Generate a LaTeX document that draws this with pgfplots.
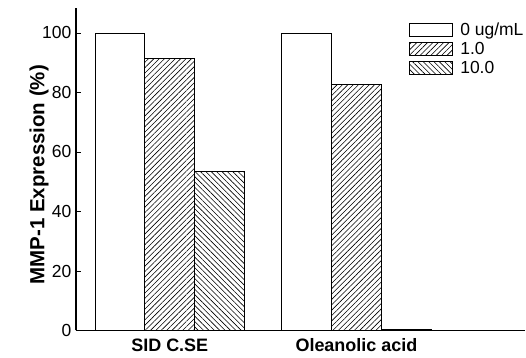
\documentclass[border=0pt]{standalone}
\usepackage{fontspec}
\setmainfont{Liberation Sans}
\usepackage{pgfplots}
\pgfplotsset{compat=1.18}
\usetikzlibrary{patterns.meta}
\begin{document}
\begin{tikzpicture}
\begin{axis}[
  name=ax, at={(0,0)}, anchor=south west,
  scale only axis, width=450pt, height=323pt,
  xmin=-0.503, xmax=1.904, ymin=0, ymax=108.4,
  axis x line*=bottom, axis y line*=left,
  axis line style={line width=1.4pt},
  x axis line style={line width=1.6pt},
  xtick={0,1}, xticklabels={SID C.SE, Oleanolic acid},
  x tick label style={font=\fontsize{18}{20}\selectfont\bfseries, text height=1.6ex, text depth=0.3ex, yshift=-4pt},
  major x tick style={draw=none},
  ytick={0,20,40,60,80,100},
  y tick label style={font=\fontsize{17.5}{19}\selectfont, xshift=-1pt},
  /pgf/number format/assume math mode=true,
  tick align=inside, major tick length=5pt,
  tick style={line width=0.8pt, black},
  ylabel={MMP-1 Expression (\%)},
  ylabel style={font=\fontsize{20.5}{22}\selectfont\bfseries, at={(axis description cs:-0.082,0.483)}, anchor=center, rotate=0},
  ybar=0pt, bar width=0.267,
  legend style={draw=none, fill=none, at={(rel axis cs:0.742,0.962)}, anchor=north west,
    font=\fontsize{17.5}{19}\selectfont, row sep=1.6pt, inner sep=0pt,
    cells={anchor=west}},
  legend image code/.code={\draw[#1] (0pt,-6.5pt) rectangle (43pt,6.5pt); \path (48pt,0pt);},
]
\addplot[draw=black, line width=0.9pt, fill=white, bar shift=-0.267] coordinates {(0,100) (1,99.7)};
\addplot[draw=black, line width=0.9pt, fill=white, bar shift=0,
  postaction={pattern={Lines[angle=45,distance=3.8pt,line width=0.6pt]}}] coordinates {(0,91.3) (1,82.7)};
\addplot[draw=black, line width=0.9pt, fill=white, bar shift=0.267,
  postaction={pattern={Lines[angle=-45,distance=3.8pt,line width=0.6pt]}}] coordinates {(0,53.5) (1,0.5)};
\legend{0 ug/mL, 1.0, 10.0}
\end{axis}
\path[use as bounding box] (-76pt,-27pt) rectangle (450pt,331pt);
\end{tikzpicture}
\end{document}
